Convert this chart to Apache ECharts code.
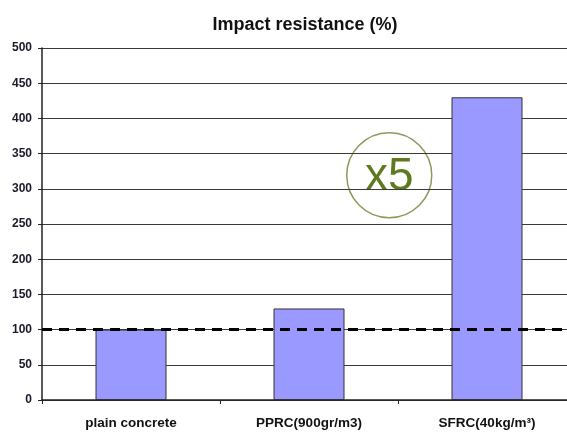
<!DOCTYPE html>
<html>
<head>
<meta charset="utf-8">
<script src="https://cdn.jsdelivr.net/npm/echarts@6/dist/echarts.min.js"></script>
<style>
  html, body { margin: 0; padding: 0; background: #fff; overflow: hidden; }
  /* the plot area runs a few pixels past the right edge of the window */
  #chart { width: 576px; height: 432px; }
</style>
</head>
<body>
<div id="chart"></div>
<script>
// Impact resistance of concrete mixes, relative to plain concrete (= 100 %)
const categories = ['plain concrete', 'PPRC(900gr/m3)', 'SFRC(40kg/m³)'];
const resistance = [100, 130, 430];
const referenceLevel = 100;
const yTicks = { min: 0, max: 500, step: 50 };

const FONT = '"Liberation Sans", Arial, sans-serif';

const chart = echarts.init(document.getElementById('chart'), null, { renderer: 'canvas' });

chart.setOption({
  animation: false,
  backgroundColor: '#ffffff',
  title: {
    text: 'Impact resistance (%)',
    left: 300,
    textAlign: 'center',
    top: 11,
    textStyle: { fontFamily: FONT, fontSize: 18, fontWeight: 'bold', color: '#111' }
  },
  grid: { left: 42, top: 48, right: 0, bottom: 32, containLabel: false },
  xAxis: {
    type: 'category',
    data: categories,
    axisLine: { show: true, lineStyle: { color: '#222', width: 1.5 } },
    axisTick: { show: true, length: 4, lineStyle: { color: '#222' } },
    axisLabel: {
      fontFamily: FONT, fontSize: 13.5, fontWeight: 'bold', color: '#111', margin: 16
    }
  },
  yAxis: {
    type: 'value',
    min: yTicks.min,
    max: yTicks.max,
    interval: yTicks.step,
    axisLine: { show: true, lineStyle: { color: '#222', width: 1.5 } },
    axisTick: { show: true, length: 4, lineStyle: { color: '#222' } },
    axisLabel: {
      fontFamily: FONT, fontSize: 12, fontWeight: 'bold', color: '#1a1a2a', margin: 10
    },
    splitLine: { show: true, lineStyle: { color: '#3a3a3a', width: 1.2 } }
  },
  series: [{
    type: 'bar',
    data: resistance,
    barWidth: 71,
    itemStyle: { color: '#9999ff', borderColor: '#333', borderWidth: 1 },
    markLine: {
      silent: true,
      symbol: ['none', 'none'],
      label: { show: false },
      lineStyle: { color: '#000', width: 2.8, type: [10, 7] },
      data: [{ yAxis: referenceLevel }]
    }
  }],
  graphic: [{
    type: 'group',
    left: 346,
    top: 132,
    children: [{
      type: 'circle',
      shape: { cx: 43, cy: 43, r: 42.5 },
      style: { fill: '#ffffff', stroke: '#8a9a5b', lineWidth: 1.5 }
    }, {
      type: 'text',
      x: 43,
      y: 45,
      style: {
        text: 'x5',
        fontFamily: FONT,
        fontSize: 46,
        fill: '#5e7a1e',
        align: 'center',
        verticalAlign: 'middle'
      }
    }]
  }]
});
</script>
</body>
</html>
